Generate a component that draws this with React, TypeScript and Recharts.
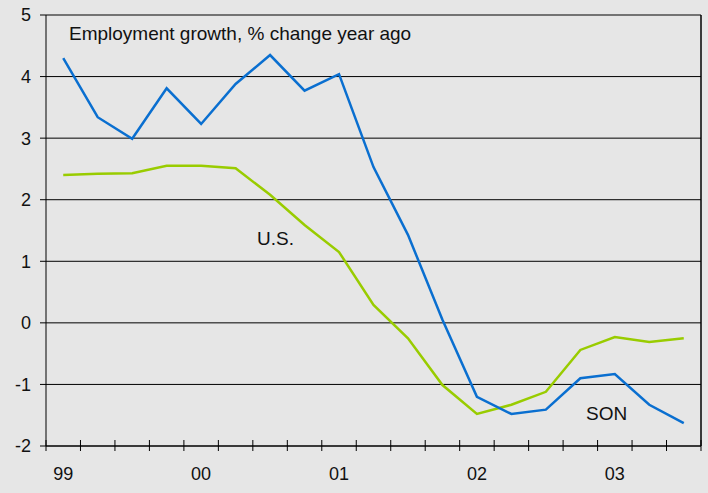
import { CartesianGrid, Line, LineChart, ReferenceLine, XAxis, YAxis } from "recharts";

const QUARTERS = [
  "99Q1", "99Q2", "99Q3", "99Q4",
  "00Q1", "00Q2", "00Q3", "00Q4",
  "01Q1", "01Q2", "01Q3", "01Q4",
  "02Q1", "02Q2", "02Q3", "02Q4",
  "03Q1", "03Q2", "03Q3"
];

const SON = [
  4.3, 3.34, 2.99, 3.81, 3.23, 3.88, 4.35, 3.77, 4.04, 2.53,
  1.43, 0.05, -1.2, -1.48, -1.41, -0.9, -0.83, -1.33, -1.63
];

const US = [
  2.4, 2.42, 2.43, 2.55, 2.55, 2.51, 2.08, 1.59, 1.15, 0.29,
  -0.25, -1.01, -1.48, -1.33, -1.12, -0.44, -0.23, -0.31, -0.25
];

const YEAR_LABELS = ["99", "00", "01", "02", "03"];
const Y_TICKS = [-2, -1, 0, 1, 2, 3, 4, 5];

const FONT = "'Liberation Sans', Arial, sans-serif";
const BG = "#e6e6e6";

const rows = QUARTERS.map((q, i) => ({ q, x: i + 0.5, son: SON[i], us: US[i] }));

// tick marks at band edges, year labels at the centre of each year's first quarter
const bandEdges = Array.from({ length: QUARTERS.length + 1 }, (_, i) => i);
const labelSpots = YEAR_LABELS.map((_, i) => i * 4 + 0.5);
const xTicks = [...bandEdges, ...labelSpots].sort((a, b) => a - b);

function XTick(props: any) {
  const { x, y, payload } = props;
  const v = payload.value as number;
  if (Number.isInteger(v)) {
    return <line x1={x} x2={x} y1={y - 6} y2={y + 5} stroke="#000" strokeWidth={1} />;
  }
  const label = YEAR_LABELS[Math.round((v - 0.5) / 4)];
  return (
    <text x={x} y={y + 34} textAnchor="middle" fontSize={18} fontFamily={FONT} fill="#111">
      {label}
    </text>
  );
}

const note = (left: number, baseline: number): React.CSSProperties => ({
  position: "absolute",
  left,
  top: baseline - 16,
  fontSize: 19,
  lineHeight: 1,
  fontFamily: FONT,
  color: "#111",
  whiteSpace: "nowrap"
});

export default function App() {
  return (
    <div style={{ position: "absolute", left: 0, top: 0, width: 708, height: 493, background: BG }}>
      <LineChart width={708} height={493} data={rows} margin={{ top: 15, right: 7, bottom: 0, left: 0 }}>
        <CartesianGrid vertical={false} stroke="#000" strokeWidth={1} />
        <XAxis
          dataKey="x"
          type="number"
          domain={[0, QUARTERS.length]}
          ticks={xTicks}
          interval={0}
          tick={<XTick />}
          tickLine={false}
          tickSize={0}
          tickMargin={0}
          height={47}
          axisLine={{ stroke: "#000" }}
        />
        <YAxis
          domain={[-2, 5]}
          ticks={Y_TICKS}
          interval={0}
          width={46}
          tickSize={6}
          tickMargin={9}
          axisLine={{ stroke: "#000" }}
          tickLine={{ stroke: "#000" }}
          tick={{ fontSize: 18, fontFamily: FONT, fill: "#111" }}
        />
        <ReferenceLine x={QUARTERS.length} stroke="#000" strokeWidth={1.5} />
        <Line dataKey="us" stroke="#99cc00" strokeWidth={2.5} dot={false} isAnimationActive={false} />
        <Line dataKey="son" stroke="#0a6fd0" strokeWidth={2.5} dot={false} isAnimationActive={false} />
      </LineChart>
      <div style={note(69, 40)}>Employment growth, % change year ago</div>
      <div style={note(257, 245)}>U.S.</div>
      <div style={note(586, 420)}>SON</div>
    </div>
  );
}
